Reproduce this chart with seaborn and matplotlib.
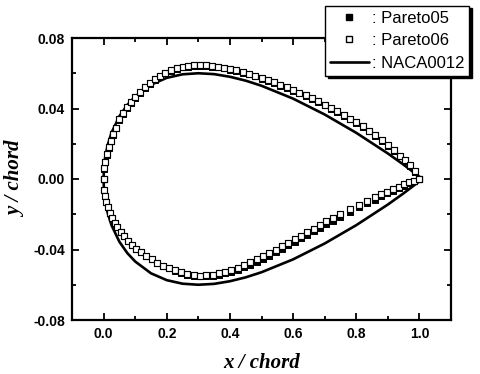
import matplotlib
matplotlib.use("Agg")
import matplotlib.pyplot as plt
import seaborn as sns
import pandas as pd
from matplotlib.lines import Line2D
from matplotlib.ticker import MultipleLocator

# ---------------- data ----------------
naca_x = [1.0, 0.95, 0.9, 0.8, 0.7, 0.6, 0.5, 0.45, 0.4, 0.35, 0.3, 0.25, 0.2, 0.15,
          0.1, 0.075, 0.05, 0.025, 0.0125, 0.005, 0.0025, 0.001, 0.0,
          0.001, 0.0025, 0.005, 0.0125, 0.025, 0.05, 0.075, 0.1, 0.15, 0.2, 0.25,
          0.3, 0.35, 0.4, 0.45, 0.5, 0.6, 0.7, 0.8, 0.9, 0.95, 1.0]
naca_y = [0.0013, 0.0081, 0.0145, 0.0262, 0.0366, 0.0456, 0.0529, 0.0558, 0.0580,
          0.0595, 0.0600, 0.0594, 0.0574, 0.0535, 0.0468, 0.0420, 0.0356, 0.0262,
          0.0189, 0.0122, 0.0087, 0.0056, 0.0,
          -0.0056, -0.0087, -0.0122, -0.0189, -0.0262, -0.0356, -0.0420, -0.0468,
          -0.0535, -0.0574, -0.0594, -0.0600, -0.0595, -0.0580, -0.0558, -0.0529,
          -0.0456, -0.0366, -0.0262, -0.0145, -0.0081, -0.0013]

upper_x = [0.000, 0.002, 0.005, 0.010, 0.016, 0.023, 0.031, 0.040, 0.050, 0.061,
           0.073, 0.086, 0.100, 0.115, 0.130, 0.146, 0.162, 0.179, 0.196, 0.214,
           0.232, 0.250, 0.268, 0.287, 0.306, 0.325, 0.344, 0.363, 0.382, 0.401,
           0.420, 0.440, 0.460, 0.480, 0.500, 0.520, 0.540, 0.560, 0.580, 0.600,
           0.620, 0.640, 0.660, 0.680, 0.700, 0.720, 0.740, 0.760, 0.780, 0.800,
           0.820, 0.840, 0.860, 0.880, 0.900, 0.920, 0.940, 0.955, 0.970, 0.985, 1.000]
p06_upper_y = [0.0000, 0.0060, 0.0096, 0.0140, 0.0180, 0.0218, 0.0254, 0.0290, 0.0340, 0.0374,
               0.0406, 0.0436, 0.0466, 0.0494, 0.0520, 0.0545, 0.0567, 0.0587, 0.0604, 0.0618,
               0.0629, 0.0637, 0.0642, 0.0645, 0.0646, 0.0645, 0.0642, 0.0637, 0.0631, 0.0624,
               0.0616, 0.0607, 0.0597, 0.0586, 0.0574, 0.0561, 0.0548, 0.0534, 0.0520, 0.0505,
               0.0490, 0.0474, 0.0457, 0.0440, 0.0422, 0.0403, 0.0384, 0.0364, 0.0343, 0.0321,
               0.0298, 0.0274, 0.0249, 0.0222, 0.0194, 0.0164, 0.0132, 0.0106, 0.0078, 0.0044, 0.0000]
p05_upper_y = [0.0000, 0.0058, 0.0094, 0.0137, 0.0177, 0.0215, 0.0251, 0.0287, 0.0336, 0.0370,
               0.0402, 0.0432, 0.0462, 0.0490, 0.0516, 0.0541, 0.0563, 0.0583, 0.0600, 0.0614,
               0.0625, 0.0633, 0.0638, 0.0641, 0.0642, 0.0641, 0.0638, 0.0633, 0.0627, 0.0620,
               0.0612, 0.0603, 0.0593, 0.0582, 0.0570, 0.0557, 0.0544, 0.0530, 0.0516, 0.0501,
               0.0486, 0.0470, 0.0453, 0.0436, 0.0418, 0.0399, 0.0380, 0.0360, 0.0339, 0.0317,
               0.0294, 0.0270, 0.0245, 0.0218, 0.0190, 0.0160, 0.0128, 0.0102, 0.0075, 0.0042, 0.0000]

lower_x = [0.000, 0.002, 0.005, 0.009, 0.014, 0.020, 0.027, 0.035, 0.044, 0.054,
           0.065, 0.077, 0.090, 0.104, 0.119, 0.135, 0.152, 0.170, 0.188, 0.207,
           0.226, 0.245, 0.265, 0.285, 0.305, 0.325, 0.345, 0.365, 0.385, 0.405,
           0.425, 0.445, 0.465, 0.485, 0.505, 0.525, 0.545, 0.565, 0.585, 0.605,
           0.625, 0.645, 0.665, 0.685, 0.705, 0.725, 0.750, 0.780, 0.810, 0.835,
           0.858, 0.878, 0.898, 0.917, 0.935, 0.952, 0.968, 0.984, 1.000]
p06_lower_y = [0.0000, -0.0062, -0.0095, -0.0129, -0.0161, -0.0192, -0.0221, -0.0249, -0.0275, -0.0300,
               -0.0326, -0.0350, -0.0373, -0.0395, -0.0416, -0.0436, -0.0456, -0.0474, -0.0491, -0.0506,
               -0.0519, -0.0530, -0.0539, -0.0545, -0.0548, -0.0547, -0.0543, -0.0536, -0.0527, -0.0516,
               -0.0503, -0.0489, -0.0473, -0.0456, -0.0438, -0.0420, -0.0401, -0.0381, -0.0362, -0.0341,
               -0.0321, -0.0301, -0.0281, -0.0261, -0.0241, -0.0222, -0.0199, -0.0172, -0.0146, -0.0124,
               -0.0104, -0.0087, -0.0071, -0.0056, -0.0043, -0.0031, -0.0019, -0.0009, 0.0000]
p05_lower_y = [0.0000, -0.0062, -0.0095, -0.0129, -0.0161, -0.0192, -0.0221, -0.0249, -0.0275, -0.0300,
               -0.0326, -0.0350, -0.0373, -0.0395, -0.0416, -0.0436, -0.0456, -0.0474, -0.0492, -0.0507,
               -0.0521, -0.0532, -0.0542, -0.0549, -0.0553, -0.0553, -0.0550, -0.0544, -0.0536, -0.0526,
               -0.0514, -0.0501, -0.0486, -0.0470, -0.0453, -0.0435, -0.0416, -0.0396, -0.0377, -0.0356,
               -0.0336, -0.0316, -0.0296, -0.0276, -0.0256, -0.0237, -0.0214, -0.0187, -0.0161, -0.0138,
               -0.0117, -0.0099, -0.0082, -0.0066, -0.0052, -0.0038, -0.0025, -0.0013, 0.0000]

legend_labels = [": Pareto05", ": Pareto06", ": NACA0012"]
x_ticks = [0.0, 0.2, 0.4, 0.6, 0.8, 1.0]
y_ticks = [-0.08, -0.04, 0.00, 0.04, 0.08]

# ---------------- style ----------------
sns.set_style("ticks")
plt.rcParams["font.family"] = ["Liberation Sans", "DejaVu Sans"]
plt.rcParams["text.color"] = "black"
plt.rcParams["axes.labelcolor"] = "black"

naca = pd.DataFrame({"x": naca_x, "y": naca_y})
p05 = pd.DataFrame({"x": upper_x + lower_x, "y": p05_upper_y + p05_lower_y})
p06 = pd.DataFrame({"x": upper_x + lower_x, "y": p06_upper_y + p06_lower_y})

fig = plt.figure(figsize=(4.8, 3.74), dpi=100)
ax = fig.add_axes([72 / 480, 1 - 320 / 374, (451 - 72) / 480, (320 - 38) / 374])

sns.lineplot(data=naca, x="x", y="y", sort=False, estimator=None, color="black",
             lw=1.9, ax=ax, zorder=2)
sns.scatterplot(data=p05, x="x", y="y", marker="s", s=13, color="black",
                edgecolor="black", linewidth=0.7, ax=ax, zorder=3)
sns.scatterplot(data=p06, x="x", y="y", marker="s", s=13, facecolor="white",
                edgecolor="black", linewidth=0.85, ax=ax, zorder=4)

ax.set_xlim(-0.1, 1.1)
ax.set_ylim(-0.08, 0.08)
ax.set_xticks(x_ticks)
ax.set_yticks(y_ticks)
ax.set_xticklabels([f"{v:.1f}" for v in x_ticks])
ax.set_yticklabels([f"{v:.2f}" for v in y_ticks])
ax.xaxis.set_minor_locator(MultipleLocator(0.1))
ax.yaxis.set_minor_locator(MultipleLocator(0.02))
ax.tick_params(which="both", direction="in", top=True, right=True, width=1.3,
               colors="black", labelcolor="black")
ax.tick_params(which="major", length=5, labelsize=10, pad=5)
ax.tick_params(which="minor", length=3)
for lab in ax.get_xticklabels() + ax.get_yticklabels():
    lab.set_fontweight("bold")
for sp in ax.spines.values():
    sp.set_linewidth(1.6)
    sp.set_color("black")

ax.set_xlabel("x / chord", family="Liberation Serif", fontsize=15, fontweight="bold",
              style="italic", labelpad=9, color="black")
ax.set_ylabel("y / chord", family="Liberation Serif", fontsize=15, fontweight="bold",
              style="italic", labelpad=5, color="black")

handles = [
    Line2D([], [], marker="s", ls="", color="black", markersize=5),
    Line2D([], [], marker="s", ls="", markerfacecolor="white", markeredgecolor="black",
           markersize=5, markeredgewidth=1),
    Line2D([], [], color="black", lw=1.9),
]
leg = fig.legend(handles, legend_labels, loc="upper right", bbox_to_anchor=(0.978, 0.985),
                 frameon=True, fancybox=False, shadow={"color": "black", "alpha": 1},
                 edgecolor="black", framealpha=1, fontsize=12, handlelength=2.3,
                 handletextpad=0.2, borderpad=0.3, labelspacing=0.45, borderaxespad=0)
leg.get_frame().set_linewidth(1.0)
for t in leg.get_texts():
    t.set_color("black")

fig.savefig("out.png", dpi=100)
